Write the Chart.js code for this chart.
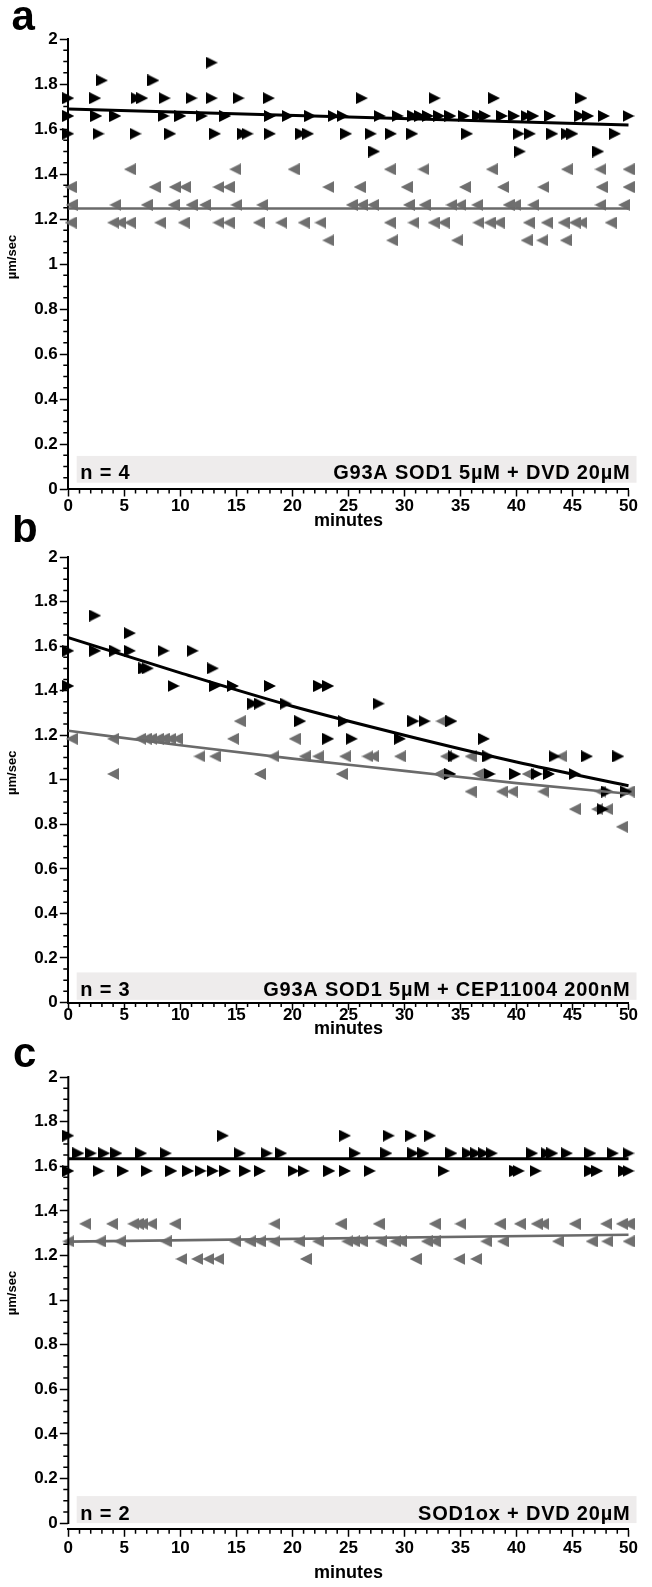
<!DOCTYPE html>
<html><head><meta charset="utf-8">
<script src="https://cdn.jsdelivr.net/npm/chart.js@4.4.1/dist/chart.umd.min.js"></script>
<style>
html,body{margin:0;padding:0;background:#fff;}
body{width:652px;height:1587px;position:relative;overflow:hidden;}
canvas{position:absolute;left:0;}
</style></head><body>
<canvas id="ca"></canvas><canvas id="cb"></canvas><canvas id="cc"></canvas>
<script>
// ---------- tick labels ----------
const xTickValues = [0,5,10,15,20,25,30,35,40,45,50];
const yTickValues = [0,0.2,0.4,0.6,0.8,1,1.2,1.4,1.6,1.8,2];
const xMinorStep = 1;      // minutes
const yMinorStep = 0.05;   // µm/sec

// helper: pair one speed level with the minutes read at that level
function row(v, xs){ return xs.map(x => ({x: x, y: v})); }

// ---------- panel a : G93A SOD1 5µM + DVD 20µM ----------
const aBlack = [
  ...row(1.895,[12.8]),
  ...row(1.816,[3.0,7.6]),
  ...row(1.737,[0,2.4,6.1,6.6,8.6,11.0,12.8,15.2,17.9,26.2,32.7,38.0,45.8]),
  ...row(1.658,[0,2.5,4.2,8.5,10.0,11.9,14.0,18.0,19.6,21.6,23.7,24.5,27.8,29.4,30.8,31.4,32.1,33.1,34.1,35.3,36.6,37.2,38.7,39.8,40.9,41.5,43.0,45.7,46.4,47.8,50.0]),
  ...row(1.579,[0,2.7,6.0,9.1,13.1,15.6,16.0,18.0,20.8,21.4,24.8,27.0,28.8,30.7,35.6,40.2,41.2,43.2,44.5,45.0,48.8]),
  ...row(1.500,[27.3,40.3,47.3])
];
const aGray = [
  ...row(1.421,[5.5,14.9,20.1,28.7,31.7,37.8,44.5,47.5,50.0]),
  ...row(1.342,[0.2,7.7,9.5,10.4,13.4,14.3,23.2,26.0,30.2,35.4,38.8,42.4,47.6,50.0]),
  ...row(1.263,[0.3,4.2,7.0,9.4,11.0,12.2,15.0,17.3,25.3,26.2,27.2,30.4,31.8,34.2,35.0,36.5,39.3,39.9,41.5,47.5,49.6]),
  ...row(1.184,[0.2,4.0,4.6,5.5,8.2,10.3,13.4,14.3,17.0,19.0,21.0,22.5,28.7,30.8,32.6,33.5,36.6,37.6,38.4,41.1,42.7,44.2,45.2,45.8,48.4]),
  ...row(1.105,[23.2,28.9,34.7,40.9,42.3,44.4])
];
const aFitBlack = [[0,1.689],[50,1.618]];
const aFitGray  = [[0,1.247],[50,1.247]];

// ---------- panel b : G93A SOD1 5µM + CEP11004 200nM ----------
const bBlack = [
  ...row(1.737,[2.4]),
  ...row(1.658,[5.5]),
  ...row(1.579,[0,2.4,4.2,5.5,8.5,11.1]),
  ...row(1.500,[6.8,7.1,12.9]),
  ...row(1.421,[0,9.4,13.1,14.7,18.0,22.4,23.2]),
  ...row(1.342,[16.5,17.1,19.4,27.7]),
  ...row(1.263,[20.7,24.6,30.8,31.8,34.2]),
  ...row(1.184,[23.2,25.3,29.6,37.1]),
  ...row(1.105,[34.4,37.5,43.4,46.3,49.1]),
  ...row(1.026,[34.1,37.6,39.9,41.8,42.9,45.2]),
  ...row(0.947,[48.1,49.8]),
  ...row(0.868,[47.7])
];
const bGray = [
  ...row(1.263,[15.3,33.3]),
  ...row(1.184,[0.3,4.0,6.4,6.9,7.4,8.0,8.5,9.1,9.7,14.7,20.2]),
  ...row(1.105,[11.7,13.1,18.3,21.1,22.3,24.7,26.7,27.2,29.6,33.7,35.9,44.0]),
  ...row(1.026,[4.0,17.1,24.4,33.1,36.6,41.0]),
  ...row(0.947,[35.9,38.7,39.6,42.4,47.5,50.0]),
  ...row(0.868,[45.2,47.2,48.1]),
  ...row(0.789,[49.4])
];
const bFitBlack = [[0,1.638],[10,1.48],[20,1.33],[30,1.20],[40,1.08],[50,0.973]];
const bFitGray  = [[0,1.22],[10,1.155],[20,1.095],[30,1.04],[40,0.985],[50,0.937]];

// ---------- panel c : SOD1ox + DVD 20µM ----------
const cBlack = [
  ...row(1.737,[0,13.8,24.7,28.6,30.6,32.3]),
  ...row(1.658,[0.9,2.0,3.2,4.3,6.5,8.7,15.3,17.7,19.0,25.6,28.4,30.8,31.7,34.2,35.7,36.4,37.1,37.8,41.4,42.7,43.2,44.5,46.6,48.6,50.0]),
  ...row(1.579,[0,2.7,4.9,7.0,9.2,10.7,11.8,12.9,14.0,15.8,17.1,20.1,21.0,23.3,24.7,26.9,33.5,39.9,40.2,41.7,46.6,47.2,49.6,50.0])
];
const cGray = [
  ...row(1.342,[1.5,3.9,5.8,6.2,6.6,7.4,9.5,18.4,24.3,27.7,32.7,35.0,38.5,40.3,41.8,42.4,45.2,48.0,49.4,50.0]),
  ...row(1.263,[0,2.8,4.6,8.7,14.9,16.2,17.1,18.4,20.6,22.3,24.9,25.5,26.2,27.9,29.2,29.7,32.0,32.7,37.3,38.8,43.7,46.7,48.1,50.0]),
  ...row(1.184,[10.1,11.5,12.5,13.4,21.2,31.0,34.9,36.4])
];
const cFitBlack = [[0,1.633],[50,1.633]];
const cFitGray  = [[0,1.262],[50,1.293]];

// ---------- styling / layout ----------
const FONT = '"Liberation Sans", Arial, Helvetica, sans-serif';
const BLACK = '#000000', GRAY = '#6f6f6f', GRAY_LINE = '#6a6a6a', BAND = '#eeecec';

function triImg(dir, color){
  const c = document.createElement('canvas'); c.width = 12; c.height = 12;
  const g = c.getContext('2d'); g.fillStyle = color; g.beginPath();
  if (dir > 0){ g.moveTo(0,0); g.lineTo(12,6); g.lineTo(0,12); }
  else { g.moveTo(12,0); g.lineTo(0,6); g.lineTo(12,12); }
  g.closePath(); g.fill(); return c;
}
const triR = triImg(1, BLACK), triL = triImg(-1, GRAY);

const panels = [
  {id:'ca', top:0,    h:545, padTop:39,   chartBottom:489,   yMin:0,      offsetAxis:false, titlePad:13.2, labelPad:-0.6,
   letter:'a', letterX:11.5, letterY:30, band:[0.028,0.147], n:'n = 4', label:'G93A SOD1 5µM + DVD 20µM',
   black:aBlack, gray:aGray, fitB:aFitBlack, fitG:aFitGray, smooth:false},
  {id:'cb', top:515,  h:528, padTop:42,   chartBottom:487.5, yMin:0,      offsetAxis:false, titlePad:3, labelPad:-4.6,
   letter:'b', letterX:12, letterY:27, band:[0.012,0.135], n:'n = 3', label:'G93A SOD1 5µM + CEP11004 200nM',
   black:bBlack, gray:bGray, fitB:bFitBlack, fitG:bFitGray, smooth:true},
  {id:'cc', top:1035, h:552, padTop:42,   chartBottom:494.3, yMin:-0.028, offsetAxis:true,  titlePad:3.2, labelPad:1.4,
   letter:'c', letterX:13, letterY:32, band:[0.0,0.121], n:'n = 2', label:'SOD1ox + DVD 20µM',
   black:cBlack, gray:cGray, fitB:cFitBlack, fitG:cFitGray, smooth:false}
];

function makeDecor(p){
  return {
    id:'decor_'+p.id,
    beforeDatasetsDraw(chart){
      const {ctx, chartArea:a, scales:{y}} = chart;
      const yTop = y.getPixelForValue(p.band[1]), yBot = y.getPixelForValue(p.band[0]);
      ctx.save();
      ctx.fillStyle = BAND;
      ctx.fillRect(a.left + 8.4, yTop, (a.right + 8) - (a.left + 8.4), yBot - yTop);
      ctx.fillStyle = '#000';
      ctx.font = 'bold 20px ' + FONT;
      try { ctx.letterSpacing = '0.8px'; } catch(e){}
      ctx.textBaseline = 'alphabetic';
      ctx.textAlign = 'left';  ctx.fillText(p.n, a.left + 12, yBot - 3.5);
      ctx.textAlign = 'right'; ctx.fillText(p.label, a.right + 2, yBot - 3.5);
      ctx.restore();
    },
    afterDraw(chart){
      const {ctx, chartArea:a, scales:{x, y}} = chart;
      ctx.save();
      ctx.strokeStyle = '#000'; ctx.fillStyle = '#000'; ctx.lineWidth = 1.5;
      ctx.beginPath();
      for (let m = 0; m <= 50 + 1e-9; m += xMinorStep){
        if (Math.round(m) % 5 === 0) continue;
        const px = x.getPixelForValue(m);
        ctx.moveTo(px, a.bottom); ctx.lineTo(px, a.bottom + 4.5);
      }
      for (let k = 0; k * yMinorStep <= 2 + 1e-9; k++){
        if (k % 4 === 0) continue;
        const py = y.getPixelForValue(k * yMinorStep);
        ctx.moveTo(a.left - 5, py); ctx.lineTo(a.left, py);
      }
      ctx.stroke();
      if (p.offsetAxis){
        ctx.lineWidth = 2;
        ctx.beginPath();
        ctx.moveTo(a.left, y.getPixelForValue(2) - 1);
        ctx.lineTo(a.left, y.getPixelForValue(0) + 1);
        ctx.stroke();
      }
      // y-axis title
      const yc = (y.getPixelForValue(2) + y.getPixelForValue(0)) / 2 - 7;
      ctx.save();
      ctx.fillStyle = '#000';
      ctx.translate(12, yc); ctx.rotate(-Math.PI / 2);
      ctx.font = 'bold 13px ' + FONT; ctx.textAlign = 'center'; ctx.textBaseline = 'middle';
      ctx.fillText('µm/sec', 0, 0);
      ctx.restore();
      // panel letter
      ctx.fillStyle = '#000';
      ctx.font = 'bold 42px ' + FONT;
      ctx.textAlign = 'left'; ctx.textBaseline = 'alphabetic';
      ctx.fillText(p.letter, p.letterX, p.letterY);
      ctx.restore();
    }
  };
}

function makeChart(p){
  const cv = document.getElementById(p.id);
  cv.width = 652; cv.height = p.h; cv.style.top = p.top + 'px';
  const tickFont = {family: FONT, size: 17, weight: 'bold'};
  new Chart(cv, {
    type: 'scatter',
    data: { datasets: [
      {type:'line', data: p.fitB.map(d => ({x:d[0], y:d[1]})), showLine:true, borderColor:BLACK, borderWidth:3,
       pointRadius:0, cubicInterpolationMode: p.smooth ? 'monotone' : 'default', fill:false, clip:false},
      {type:'line', data: p.fitG.map(d => ({x:d[0], y:d[1]})), showLine:true, borderColor:GRAY_LINE, borderWidth:2.6,
       pointRadius:0, cubicInterpolationMode: p.smooth ? 'monotone' : 'default', fill:false, clip:false},
      {data: p.black, pointStyle: triR, pointRadius: 6, clip:false},
      {data: p.gray,  pointStyle: triL, pointRadius: 6, clip:false}
    ]},
    options: {
      responsive:false, animation:false, events:[], devicePixelRatio:1,
      layout:{padding:{left:0, right:23.5, top:p.padTop, bottom:0}},
      plugins:{legend:{display:false}, tooltip:{enabled:false}},
      scales:{
        x:{type:'linear', position:'bottom', min:0, max:50,
           afterBuildTicks: s => { s.ticks = xTickValues.map(v => ({value:v})); },
           afterFit: s => { s.height = p.h - p.chartBottom; },
           ticks:{color:'#000', font:tickFont, padding:p.labelPad, maxRotation:0, autoSkip:false, callback: v => String(v)},
           grid:{display:true, drawOnChartArea:false, drawTicks:true, tickLength:7.5, tickWidth:1.5, tickColor:'#000'},
           border:{display:true, color:'#000', width:2},
           title:{display:true, text:'minutes', color:'#000', font:{family:FONT, size:18, weight:'bold'}, padding:{top:0, bottom:p.titlePad}}},
        y:{type:'linear', position:'left', min:p.yMin, max:2,
           afterBuildTicks: s => { s.ticks = yTickValues.map(v => ({value:v})); },
           afterFit: s => { s.width = 68.3; },
           ticks:{color:'#000', font:tickFont, padding:2, autoSkip:false, callback: v => String(Math.round(v*10)/10)},
           grid:{display:true, drawOnChartArea:false, drawTicks:true, tickLength:8.5, tickWidth:1.5, tickColor:'#000'},
           border:{display:!p.offsetAxis, color:'#000', width:2},
           title:{display:false}}
      }
    },
    plugins:[makeDecor(p)]
  });
}
panels.forEach(makeChart);
</script>
</body></html>
